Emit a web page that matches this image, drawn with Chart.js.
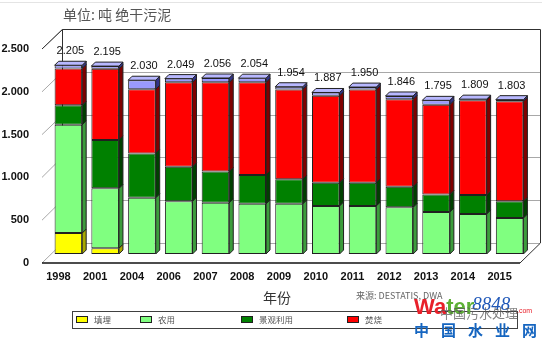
<!DOCTYPE html>
<html>
<head>
<meta charset="utf-8">
<script src="https://cdn.jsdelivr.net/npm/chart.js@4/dist/chart.umd.min.js"></script>
<style>
  html, body { margin: 0; padding: 0; background: #fff; }
  #wrap { position: relative; width: 542px; height: 344px; }
</style>
</head>
<body>
<div id="wrap"><canvas id="sludge"></canvas></div>
<script>
// Klärschlammentsorgung in Deutschland, Tonnen Trockenmasse (x1000)
const years     = ['1998', '2001', '2004', '2006', '2007', '2008', '2009', '2010', '2011', '2012', '2013', '2014', '2015'];
const landfill  = [245,   67,    0,    0,    0,    0,    0,    0,    0,    0,    0,    0,    0];
const farmland  = [1265,  700,  657,  617,  598,  586,  586,  562,  562,  546,  491,  468,  421];
const landscape = [228,   566,  518,  401,  365,  337,  287,  271,  271,  240,  205,  220,  196];
const burning   = [430,   830,  750,  987, 1042, 1082, 1049, 1015, 1089, 1022, 1049, 1108, 1167];
const other     = [37,    32,   105,   44,   51,   49,   32,   39,   28,   38,   50,   13,   19];
const yTicks    = [0, 500, 1000, 1500, 2000, 2500];

const FONT    = '"Liberation Sans", Arial, sans-serif';
const CJK     = '"Noto Sans CJK SC", "Liberation Sans", sans-serif';
const DEPTH   = { x: 4, y: -4 };     // bar depth
const FRONT   = { x: -8, y: 9 };     // front edge of the box, relative to the bar plane
const BACK    = { x: 12, y: -11 };   // back wall, relative to the bar plane

// 1.234 style thousands separator
const fmt = v => String(Math.round(v)).replace(/\B(?=(\d{3})+(?!\d))/g, '.');

const totals = years.map((_, i) => landfill[i] + farmland[i] + landscape[i] + burning[i] + other[i]);

const seriesStyle = [
  { label: '填埋',     data: landfill,  face: '#FFFF00', side: '#A8A800', top: '#FFFF90' },
  { label: '农用',     data: farmland,  face: '#80FF80', side: '#3C9C3C', top: '#B8FFB8' },
  { label: '景观利用', data: landscape, face: '#008000', side: '#004000', top: '#40A040' },
  { label: '焚烧',     data: burning,   face: '#FF0000', side: '#800000', top: '#FF7070' },
  { label: '其他',     data: other,     face: '#9999FF', side: '#333388', top: '#B8B8FF', noLegend: true },
];

// 3D frame behind the bars: back wall, left wall, floor
const boxPlugin = {
  id: 'box3d',
  beforeDatasetsDraw(chart) {
    const { ctx, chartArea: a, scales: { y } } = chart;
    const yTop = y.getPixelForValue(2500), yBot = y.getPixelForValue(0);
    ctx.save();
    ctx.lineWidth = 1;
    // back wall grid
    ctx.strokeStyle = '#a8a8a8';
    yTicks.forEach(v => {
      const py = Math.round(y.getPixelForValue(v) + BACK.y) + 0.5;
      ctx.beginPath();
      ctx.moveTo(a.left + BACK.x, py);
      ctx.lineTo(a.right + BACK.x, py);
      ctx.stroke();
      // diagonal on the left wall
      ctx.beginPath();
      ctx.moveTo(a.left + FRONT.x, y.getPixelForValue(v) + FRONT.y);
      ctx.lineTo(a.left + BACK.x, py);
      ctx.stroke();
    });
    // outer edges
    ctx.strokeStyle = '#303030';
    ctx.beginPath();
    ctx.moveTo(a.left + FRONT.x, yTop + FRONT.y);
    ctx.lineTo(a.left + BACK.x + 0.5, Math.round(yTop + BACK.y) + 0.5);
    ctx.lineTo(a.right + BACK.x + 0.5, Math.round(yTop + BACK.y) + 0.5);
    ctx.lineTo(a.right + BACK.x + 0.5, yBot + BACK.y);
    ctx.lineTo(a.right + FRONT.x, yBot + FRONT.y);
    ctx.moveTo(a.left + BACK.x + 0.5, Math.round(yTop + BACK.y) + 0.5);
    ctx.lineTo(a.left + BACK.x + 0.5, yBot + BACK.y);
    ctx.stroke();
    // front floor edge
    ctx.lineWidth = 1.6;
    ctx.strokeStyle = '#101010';
    ctx.beginPath();
    ctx.moveTo(a.left + FRONT.x, yBot + FRONT.y);
    ctx.lineTo(a.right + FRONT.x, yBot + FRONT.y);
    ctx.stroke();
    ctx.restore();
  }
};

// side and top faces of each bar segment, plus the stack totals
const depthPlugin = {
  id: 'barDepth',
  afterDatasetsDraw(chart) {
    const { ctx } = chart;
    ctx.save();
    ctx.lineWidth = 1;
    ctx.strokeStyle = '#202020';
    years.forEach((_, i) => {
      let topBar = null, topStyle = null;
      chart.data.datasets.forEach((ds, d) => {
        if (!ds.data[i]) return;
        const bar = chart.getDatasetMeta(d).data[i];
        const r = bar.x + bar.width / 2;
        ctx.fillStyle = seriesStyle[d].side;
        ctx.beginPath();
        ctx.moveTo(r, bar.y);
        ctx.lineTo(r + DEPTH.x, bar.y + DEPTH.y);
        ctx.lineTo(r + DEPTH.x, bar.base + DEPTH.y);
        ctx.lineTo(r, bar.base);
        ctx.closePath();
        ctx.fill();
        ctx.stroke();
        topBar = bar; topStyle = seriesStyle[d];
      });
      if (!topBar) return;
      const l = topBar.x - topBar.width / 2, r = topBar.x + topBar.width / 2;
      ctx.fillStyle = topStyle.top;
      ctx.beginPath();
      ctx.moveTo(l, topBar.y);
      ctx.lineTo(l + DEPTH.x, topBar.y + DEPTH.y);
      ctx.lineTo(r + DEPTH.x, topBar.y + DEPTH.y);
      ctx.lineTo(r, topBar.y);
      ctx.closePath();
      ctx.fill();
      ctx.stroke();

      ctx.fillStyle = '#111';
      ctx.font = '11px ' + FONT;
      ctx.textAlign = 'center';
      ctx.textBaseline = 'alphabetic';
      ctx.fillText(fmt(totals[i]), topBar.x + 2, topBar.y + DEPTH.y - 7);
    });
    ctx.restore();
  }
};

// title, axis caption, source line, legend box and site mark
const textPlugin = {
  id: 'extraText',
  afterDraw(chart) {
    const { ctx } = chart;
    ctx.save();
    ctx.strokeStyle = '#e4e4e4';
    ctx.lineWidth = 1;
    ctx.beginPath(); ctx.moveTo(0, 2.5); ctx.lineTo(542, 2.5); ctx.stroke();

    ctx.textBaseline = 'middle';
    ctx.textAlign = 'left';
    ctx.fillStyle = '#555';
    ctx.font = '14px ' + CJK;
    ctx.fillText('单位: 吨 绝干污泥', 63, 15);

    ctx.fillStyle = '#333';
    ctx.textAlign = 'center';
    ctx.font = '14px ' + CJK;
    ctx.fillText('年份', 277, 298);

    ctx.textAlign = 'left';
    ctx.fillStyle = '#666';
    ctx.font = '9px ' + CJK;
    ctx.fillText('来源: DESTATIS, DWA', 356, 296);

    // legend
    ctx.strokeStyle = '#404040';
    ctx.strokeRect(72.5, 311.5, 445, 17);
    const swatchX = [76, 140, 241, 347];
    let k = 0;
    seriesStyle.forEach(s => {
      if (s.noLegend) return;
      const x = swatchX[k++];
      ctx.fillStyle = s.face;
      ctx.fillRect(x, 316.5, 11, 6);
      ctx.strokeStyle = '#202020';
      ctx.strokeRect(x + 0.5, 316.5, 11, 6);
      ctx.fillStyle = '#555';
      ctx.font = '8.5px ' + CJK;
      ctx.fillText(s.label, x + 18, 320);
    });

    // site mark
    ctx.textBaseline = 'alphabetic';
    ctx.font = 'bold 22px ' + FONT;
    ctx.fillStyle = '#E8202A';
    ctx.fillText('Wa', 414, 314);
    const wWa = ctx.measureText('Wa').width;
    ctx.fillStyle = '#5DB035';
    ctx.fillText('ter', 414 + wWa, 314);
    const wTer = ctx.measureText('ter').width;
    ctx.font = 'italic 19px "Liberation Serif", serif';
    ctx.fillStyle = '#2058B8';
    ctx.fillText('8848', 412 + wWa + wTer, 310);
    ctx.font = '7px ' + FONT;
    ctx.fillStyle = '#E8202A';
    ctx.fillText('.com', 517, 313);
    ctx.font = '13px ' + CJK;
    ctx.fillStyle = 'rgba(90,90,90,0.75)';
    ctx.fillText('中国污水处理', 440, 318);
    ctx.font = 'bold 15px ' + CJK;
    ctx.fillStyle = '#1565C0';
    ['中', '国', '水', '业', '网'].forEach((c, j) => ctx.fillText(c, 414 + j * 27, 336));
    ctx.restore();
  }
};

new Chart(document.getElementById('sludge'), {
  type: 'bar',
  data: {
    labels: years,
    datasets: seriesStyle.map(s => ({
      label: s.label,
      data: s.data,
      backgroundColor: s.face,
      borderColor: '#202020',
      borderWidth: 1,
      borderSkipped: false,
      barPercentage: 0.75,
      categoryPercentage: 1,
    })),
  },
  options: {
    responsive: true,
    maintainAspectRatio: false,
    animation: false,
    devicePixelRatio: 1,
    layout: { padding: { top: 40, right: 14, left: 0, bottom: 0 } },
    plugins: {
      legend:  { display: false },
      tooltip: { enabled: false },
    },
    scales: {
      x: {
        stacked: true,
        grid:   { display: false, drawTicks: false },
        border: { display: false },
        ticks:  { color: '#111', padding: 16, labelOffset: -10, maxRotation: 0, autoSkip: false,
                  font: { family: FONT, size: 11, weight: 'bold' } },
        afterFit: s => { s.height = 90; },
      },
      y: {
        stacked: true,
        min: 0,
        max: 2500,
        grid:   { display: false, drawTicks: false },
        border: { display: false },
        afterBuildTicks: s => { s.ticks = yTicks.map(v => ({ value: v })); },
        ticks:  { color: '#111', padding: 21, labelOffset: 9, callback: v => fmt(v),
                  font: { family: FONT, size: 11, weight: 'bold' } },
        afterFit: s => { s.width = 50; },
      },
    },
  },
  plugins: [boxPlugin, depthPlugin, textPlugin],
});
</script>
</body>
</html>
